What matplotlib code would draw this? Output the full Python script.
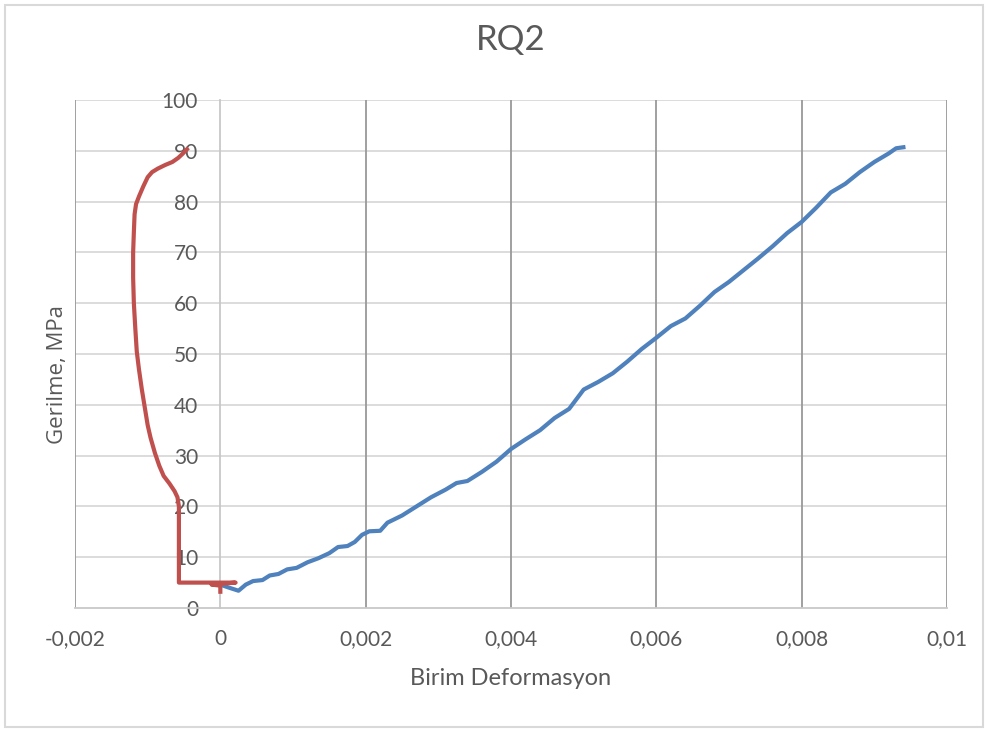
import matplotlib.pyplot as plt
from matplotlib.patches import Rectangle

# blue curve: Birim Deformasyon vs Gerilme
blue_x = [0.0, 0.00012, 0.00025, 0.00035, 0.00045, 0.00058, 0.00068, 0.0008, 0.00092, 0.00105,
          0.0012, 0.00135, 0.0015, 0.00162, 0.00175, 0.00185, 0.00195, 0.00205, 0.0022, 0.0023,
          0.0025, 0.0027, 0.0029, 0.0031, 0.00325, 0.0034, 0.0036, 0.0038, 0.004, 0.0042,
          0.0044, 0.0046, 0.0048, 0.005, 0.0052, 0.0054, 0.0056, 0.0058, 0.006, 0.0062,
          0.0064, 0.0066, 0.0068, 0.007, 0.0072, 0.0074, 0.0076, 0.0078, 0.008, 0.0082,
          0.0084, 0.0086, 0.0088, 0.009, 0.0092, 0.0093, 0.0094]
blue_y = [4.6, 4.0, 3.4, 4.6, 5.3, 5.5, 6.4, 6.7, 7.6, 7.9,
          9.0, 9.8, 10.8, 12.0, 12.2, 13.0, 14.4, 15.1, 15.2, 16.8,
          18.2, 20.0, 21.8, 23.3, 24.6, 25.0, 26.8, 28.8, 31.3, 33.2,
          35.0, 37.4, 39.2, 43.0, 44.5, 46.2, 48.5, 51.0, 53.2, 55.5,
          57.0, 59.5, 62.2, 64.2, 66.5, 68.8, 71.2, 73.8, 76.0, 78.8,
          81.8, 83.5, 85.8, 87.8, 89.5, 90.5, 90.7]

# red curve
red_x = [0.0, 0.0, -0.00012, 0.00021, -0.00057, -0.00057, -0.00057, -0.00059, -0.00063, -0.0007,
         -0.00078, -0.00084, -0.0009, -0.00096, -0.001, -0.00104, -0.00108, -0.00112, -0.00115, -0.00117,
         -0.00119, -0.0012, -0.0012, -0.00119, -0.00118, -0.00116, -0.00112, -0.00106, -0.001, -0.00094,
         -0.00086, -0.00076, -0.00066, -0.00058, -0.00052, -0.00046]
red_y = [3.2, 4.4, 4.6, 5.0, 5.0, 12.0, 20.0, 21.8, 23.0, 24.5,
         26.0, 28.0, 30.5, 33.5, 36.0, 39.5, 43.0, 47.0, 50.5, 55.0,
         60.0, 65.0, 70.0, 74.0, 77.5, 79.5, 81.0, 83.0, 84.8, 85.8,
         86.5, 87.2, 87.8, 88.6, 89.4, 90.3]

x_ticks = [-0.002, 0, 0.002, 0.004, 0.006, 0.008, 0.01]
x_labels = ['-0,002', '0', '0,002', '0,004', '0,006', '0,008', '0,01']
y_ticks = [0, 10, 20, 30, 40, 50, 60, 70, 80, 90, 100]

plt.rcParams['font.family'] = ['Lato', 'DejaVu Sans']
text_col = '#595959'

fig = plt.figure(figsize=(9.88, 7.31), dpi=100)
ax = fig.add_axes([75 / 988, 1 - 608 / 731, 872 / 988, 508 / 731])
fig.patches.append(Rectangle((5 / 988, 4 / 731), 978 / 988, 722 / 731, transform=fig.transFigure,
                             fill=False, edgecolor='#d9d9d9', linewidth=1.5))

ax.set_xlim(-0.002, 0.01)
ax.set_ylim(0, 100)

# gridlines
for y in y_ticks[1:]:
    ax.axhline(y, color='#d9d9d9', linewidth=1.3, zorder=0)
for x in x_ticks:
    if x != 0:
        ax.axvline(x, color='#999999', linewidth=1.3, zorder=0)

for s in ['top', 'right']:
    ax.spines[s].set_visible(False)
ax.spines['left'].set_position(('data', 0))
ax.spines['left'].set_color('#c8c8c8')
ax.spines['left'].set_linewidth(1.3)
ax.spines['bottom'].set_color('#c8c8c8')
ax.spines['bottom'].set_linewidth(1.3)

ax.plot(blue_x, blue_y, color='#4F81BD', linewidth=3, solid_joinstyle='round', zorder=3)
ax.plot(red_x, red_y, color='#C0504D', linewidth=3, solid_joinstyle='round', zorder=4)

ax.set_xticks(x_ticks)
ax.set_xticklabels(x_labels)
ax.set_yticks(y_ticks)
ax.tick_params(axis='x', length=0, pad=15, labelsize=15, labelcolor=text_col)
ax.tick_params(axis='y', length=0, pad=16, labelsize=15, labelcolor=text_col)

ax.set_title('RQ2', fontsize=25, color=text_col, pad=36)
ax.set_xlabel('Birim Deformasyon', fontsize=17, color=text_col, labelpad=14)
fig.text(58 / 988, 1 - 375 / 731, 'Gerilme, MPa', rotation=90, ha='center', va='center',
         fontsize=16, color=text_col, family=['Open Sans', 'DejaVu Sans'])

fig.savefig('out.png', dpi=100)
